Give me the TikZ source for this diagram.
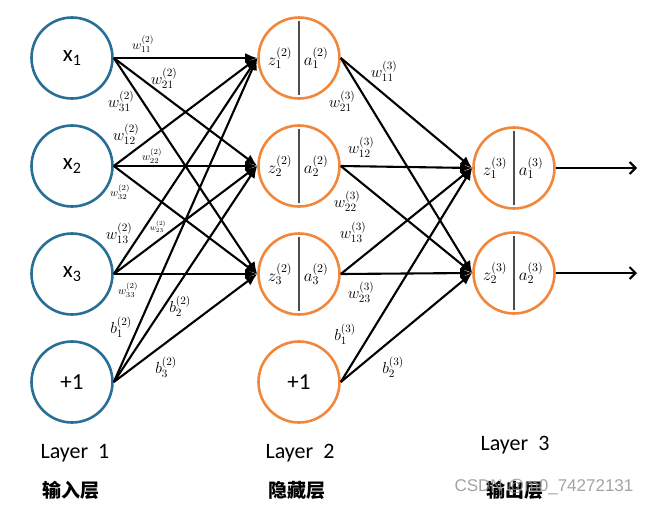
\RequirePackage{fix-cm}
\documentclass[tikz,border=0pt]{standalone}
\usepackage[no-math]{fontspec}
\setmainfont{Carlito}
\newfontfamily\cjk{Noto Sans CJK SC}
\newfontfamily\wmfont{Liberation Sans}
\usetikzlibrary{arrows.meta}
\definecolor{nblue}{RGB}{40,110,150}
\definecolor{norange}{RGB}{242,135,60}
\newcommand\xsub[1]{x\raisebox{-0.35ex}{\fontsize{16}{18}\selectfont #1}}
\newcommand\fs[1]{\fontsize{#1}{#1}\selectfont}
\begin{document}
\begin{tikzpicture}[x=1pt,y=-1pt,
  neuron/.style={circle, draw, line width=2.6pt, minimum size=81pt, inner sep=0pt},
  inp/.style={neuron, draw=nblue, font=\fs{23}},
  hid/.style={neuron, draw=norange},
  edge/.style={line width=2.1pt, -{Latex[length=12pt,width=10pt]}},
  outarrow/.style={line width=2.1pt, -{Straight Barb[length=6pt,width=12pt,line width=2.1pt]}},
  divider/.style={draw=black!70, line width=1.5pt},
  big/.style={inner sep=0pt, font=\fs{16}},
  mid/.style={inner sep=0pt, font=\fs{13}},
  small/.style={inner sep=0pt, font=\fs{11}},
  tiny/.style={inner sep=0pt, font=\fs{8}},
  inner/.style={inner sep=0pt, font=\fs{17}},
  layer/.style={inner sep=0pt, font=\fs{22}},
  cn/.style={inner sep=0pt, font=\cjk\bfseries\fs{19}}
]
\useasboundingbox (0,0) rectangle (646,504);

% input layer
\node[inp] (x1) at (72,58) {\xsub{1}};
\node[inp] (x2) at (72,166) {\xsub{2}};
\node[inp] (x3) at (72,274) {\xsub{3}};
\node[inp] (b1) at (72,382) {+1};

% hidden layer
\foreach \i/\y in {1/58,2/166,3/274}{
  \node[hid] (h\i) at (299,\y) {};
  \draw[divider] ([yshift=37pt]h\i.center) -- ([yshift=-37pt]h\i.center);
  \node[inner] (z\i) at ([xshift=-19pt]h\i.center) {$z^{(2)}_{\i}$};
  \node[inner] (a\i) at ([xshift=17pt]h\i.center) {$a^{(2)}_{\i}$};
}
\node[hid, font=\fs{23}] (hb) at (299,382) {+1};

% output layer
\foreach \i/\y in {1/168,2/273}{
  \node[hid] (o\i) at (514,\y) {};
  \draw[divider] ([yshift=37pt]o\i.center) -- ([yshift=-37pt]o\i.center);
  \node[inner] (oz\i) at ([xshift=-19pt]o\i.center) {$z^{(3)}_{\i}$};
  \node[inner] (oa\i) at ([xshift=17pt]o\i.center) {$a^{(3)}_{\i}$};
}

% connections
\foreach \s in {x1,x2,x3,b1}
  \foreach \t in {h1,h2,h3}
    \draw[edge] (\s.east) -- (\t.west);
\foreach \s in {h1,h2,h3,hb}
  \foreach \t in {o1,o2}
    \draw[edge] (\s.east) -- (\t.west);
\coordinate (y1) at (637,168);
\coordinate (y2) at (637,273);
\draw[outarrow] (o1.east) -- (y1);
\draw[outarrow] (o2.east) -- (y2);

% layer 1 weights
\node[mid]   (w11a) at (143,44)  {$w^{(2)}_{11}$};
\node[big]   (w21a) at (164,78)  {$w^{(2)}_{21}$};
\node[big]   (w31a) at (121,101) {$w^{(2)}_{31}$};
\node[big]   (w12a) at (126,134) {$w^{(2)}_{12}$};
\node[small] (w22a) at (152,156) {$w^{(2)}_{22}$};
\node[small] (w32a) at (120,192) {$w^{(2)}_{32}$};
\node[big]   (w13a) at (119,233) {$w^{(2)}_{13}$};
\node[tiny]  (w23a) at (158,227) {$w^{(2)}_{23}$};
\node[small] (w33a) at (128,290) {$w^{(2)}_{33}$};
\node[big]   (bb1a) at (121,327) {$b^{(2)}_{1}$};
\node[big]   (bb2a) at (180,306) {$b^{(2)}_{2}$};
\node[big]   (bb3a) at (166,367) {$b^{(2)}_{3}$};

% layer 2 weights
\node[big] (w11b) at (384,71)  {$w^{(3)}_{11}$};
\node[big] (w21b) at (342,101) {$w^{(3)}_{21}$};
\node[big] (w12b) at (361,147) {$w^{(3)}_{12}$};
\node[big] (w22b) at (347,201) {$w^{(3)}_{22}$};
\node[big] (w13b) at (353,232) {$w^{(3)}_{13}$};
\node[big] (w23b) at (361,292) {$w^{(3)}_{23}$};
\node[big] (bb1b) at (345,334) {$b^{(3)}_{1}$};
\node[big] (bb2b) at (393,367) {$b^{(3)}_{2}$};

% layer names
\node[layer] (L1) at (75,453) {Layer\ \ 1};
\node[layer] (L2) at (300,453) {Layer\ \ 2};
\node[layer] (L3) at (515,445) {Layer\ \ 3};
\node[cn] (C1) at (71,490) {输入层};
\node[cn] (C2) at (297,490) {隐藏层};
\node[cn] (C3) at (515,490) {输出层};
\node[inner sep=0pt, font=\wmfont\fs{17}, text=black!45, opacity=0.8] (wm) at (544,487) {CSDN @m0\_74272131};
\end{tikzpicture}
\end{document}
